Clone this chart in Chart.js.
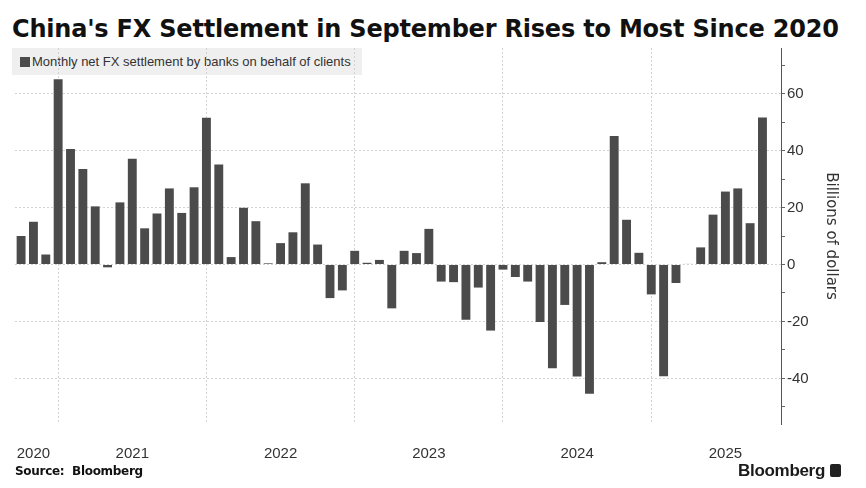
<!DOCTYPE html>
<html>
<head>
<meta charset="utf-8">
<script src="https://cdn.jsdelivr.net/npm/chart.js@4.4.1/dist/chart.umd.min.js"></script>
<style>
  body { margin: 0; background: #fff; }
  #wrap { position: relative; width: 866px; height: 488px; overflow: hidden; font-family: "Liberation Sans", Arial, sans-serif; }
  #title { position: absolute; left: 12px; top: 14px; font-family: "DejaVu Sans", sans-serif; font-size: 24px; font-weight: bold; color: #111; white-space: nowrap; line-height: 30px; letter-spacing: -0.2px; }
  #legend { position: absolute; left: 12px; top: 48px; width: 350px; height: 27px; background: #efefef; font-size: 13px; color: #333; line-height: 27px; white-space: nowrap; }
  #legend span.sw { display: inline-block; width: 10px; height: 10px; background: #4b4b4b; margin: 0 2px 0 8px; vertical-align: -1px; }
  #chartbox { position: absolute; left: 0; top: 0; width: 866px; height: 488px; }
  #source { position: absolute; left: 15px; top: 464px; font-family: "DejaVu Sans", sans-serif; font-size: 12px; font-weight: bold; color: #111; letter-spacing: -0.3px; }
  #brand { position: absolute; left: 738px; top: 461px; font-size: 17px; font-weight: bold; color: #1a1a1a; letter-spacing: -0.3px; }
  #brand i { display: inline-block; width: 11px; height: 13px; background: #222; border-radius: 2px; margin-left: 5px; vertical-align: -1px; }
</style>
</head>
<body>
<div id="wrap">
  <div id="title">China's FX Settlement in September Rises to Most Since 2020</div>
  <div id="legend"><span class="sw"></span>Monthly net FX settlement by banks on behalf of clients</div>
  <div id="chartbox"><canvas id="myChart"></canvas></div>
  <div id="source">Source:&nbsp; Bloomberg</div>
  <div id="brand">Bloomberg<i></i></div>
</div>
<script>
// months, Sep 2020 .. Sep 2025 plus one empty slot at the end
const months = [
  'Sep 2020', 'Oct 2020', 'Nov 2020', 'Dec 2020',
  'Jan 2021', 'Feb 2021', 'Mar 2021', 'Apr 2021', 'May 2021', 'Jun 2021',
  'Jul 2021', 'Aug 2021', 'Sep 2021', 'Oct 2021', 'Nov 2021', 'Dec 2021',
  'Jan 2022', 'Feb 2022', 'Mar 2022', 'Apr 2022', 'May 2022', 'Jun 2022',
  'Jul 2022', 'Aug 2022', 'Sep 2022', 'Oct 2022', 'Nov 2022', 'Dec 2022',
  'Jan 2023', 'Feb 2023', 'Mar 2023', 'Apr 2023', 'May 2023', 'Jun 2023',
  'Jul 2023', 'Aug 2023', 'Sep 2023', 'Oct 2023', 'Nov 2023', 'Dec 2023',
  'Jan 2024', 'Feb 2024', 'Mar 2024', 'Apr 2024', 'May 2024', 'Jun 2024',
  'Jul 2024', 'Aug 2024', 'Sep 2024', 'Oct 2024', 'Nov 2024', 'Dec 2024',
  'Jan 2025', 'Feb 2025', 'Mar 2025', 'Apr 2025', 'May 2025', 'Jun 2025',
  'Jul 2025', 'Aug 2025', 'Sep 2025', 'Oct 2025'
];

// billions of dollars
const settlement = [
  10.0, 15.0, 3.5, 65.0,
  40.5, 33.5, 20.4, -1.0, 21.8, 37.1, 12.7, 17.9, 26.7, 18.1, 27.1, 51.5,
  35.1, 2.6, 19.9, 15.2, 0.4, 7.5, 11.3, 28.5, 7.0, -11.8, -9.1, 4.8,
  0.6, 1.6, -15.4, 4.8, 4.0, 12.5, -6.0, -6.2, -19.4, -8.1, -23.2, -1.8,
  -4.4, -6.0, -20.2, -36.4, -14.2, -39.3, -45.4, 0.8, 45.1, 15.7, 4.1, -10.5,
  -39.2, -6.5, 0.2, 6.0, 17.5, 25.6, 26.7, 14.5, 51.6, null
];

// year labels and the month they sit under
const yearLabels = ['2020', '2021', '2022', '2023', '2024', '2025'];
const yearLabelAt = ['Oct 2020', 'Jun 2021', 'Jun 2022', 'Jun 2023', 'Jun 2024', 'Jun 2025'];

const barColor = '#4b4b4b';
const gridColor = '#d2d2d2';

const data = {
  labels: months,
  datasets: [{
    label: 'Monthly net FX settlement by banks on behalf of clients',
    data: settlement,
    backgroundColor: barColor,
    borderWidth: 0,
    barPercentage: 0.72,
    categoryPercentage: 1.0
  }]
};

const config = {
  type: 'bar',
  data,
  options: {
    responsive: true,
    maintainAspectRatio: false,
    animation: false,
    layout: { padding: { left: 10, top: 48, right: 0, bottom: 0 } },
    plugins: {
      legend: { display: false },
      tooltip: { enabled: false }
    },
    scales: {
      x: {
        offset: true,
        grid: {
          offset: false,
          drawTicks: false,
          color: ctx => months[ctx.index] && months[ctx.index].startsWith('Dec') ? gridColor : 'rgba(0,0,0,0)',
          lineWidth: 1
        },
        border: { display: false, dash: [2, 2] },
        ticks: {
          autoSkip: false,
          maxRotation: 0,
          minRotation: 0,
          padding: 21,
          color: '#333',
          font: { family: 'Liberation Sans', size: 15 },
          callback: function(value, index) {
            const k = yearLabelAt.indexOf(months[index]);
            return k >= 0 ? yearLabels[k] : '';
          }
        },
        afterFit: s => { s.height = 64; }
      },
      y: {
        position: 'right',
        min: -56,
        max: 76,
        grid: {
          color: ctx => ctx.tick && ctx.tick.value % 20 === 0 ? gridColor : 'rgba(0,0,0,0)',
          tickColor: '#666',
          tickLength: 4,
          drawTicks: true
        },
        border: { display: true, color: '#555', width: 1, dash: [2, 2] },
        ticks: {
          stepSize: 10,
          includeBounds: false,
          padding: 2,
          color: '#333',
          font: { family: 'Liberation Sans', size: 15 },
          callback: v => v % 20 === 0 ? v : ''
        },
        title: {
          display: true,
          text: 'Billions of dollars',
          color: '#333',
          font: { family: 'DejaVu Sans', size: 15 },
          padding: { top: 26, bottom: 0 }
        },
        afterFit: s => { s.width = 85; }
      }
    }
  }
};

const myChart = new Chart(document.getElementById('myChart'), config);
</script>
</body>
</html>
